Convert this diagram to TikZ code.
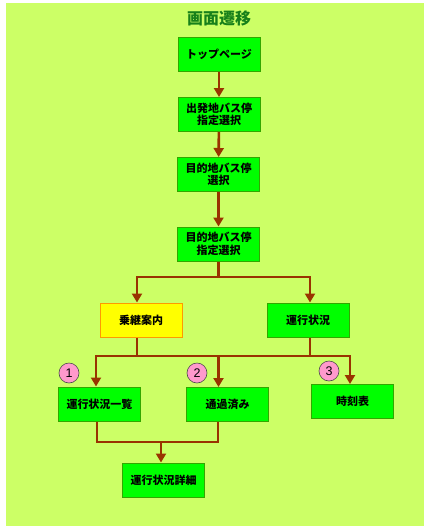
\documentclass[tikz,border=0pt]{standalone}
\usepackage{fontspec}
\setmainfont{Liberation Sans}
\newfontfamily\jpfont{Noto Sans CJK JP}[BoldFont={Noto Sans CJK JP Black}]
\usetikzlibrary{arrows.meta}

\definecolor{bgcol}{HTML}{CCFF66}
\definecolor{boxgreen}{HTML}{00FF00}
\definecolor{boxline}{HTML}{33A600}
\definecolor{boxyellow}{HTML}{FFFF00}
\definecolor{boxorange}{HTML}{FF9900}
\definecolor{flowbrown}{HTML}{993300}
\definecolor{titlegreen}{HTML}{17801A}
\definecolor{markpink}{HTML}{FF99CC}

\begin{document}
\begin{tikzpicture}[x=1pt,y=-1pt,
  screen/.style={draw=boxline,line width=1pt,fill=boxgreen,minimum width=82pt,minimum height=34pt,
    inner sep=0pt,align=center,font=\jpfont\bfseries\fontsize{11}{12.5}\selectfont},
  guide/.style={screen,draw=boxorange,fill=boxyellow},
  flow/.style={draw=flowbrown,line width=2.6pt},
  flowto/.style={flow,-{Triangle[width=10pt,length=9pt]}}]
\useasboundingbox (0,0) rectangle (424,528);
\fill[bgcol] (6,3) rectangle (424,526);
\node[font=\jpfont\bfseries\fontsize{16}{18}\selectfont,text=titlegreen] (title) at (219,18) {画面遷移};

% main chain
\node[screen] (top) at (219,54.5) {トップページ};
\node[screen] (dep) at (219,114.5) {出発地バス停\\指定選択};
\node[screen] (dest) at (218.5,174.5) {目的地バス停\\選択};
\node[screen] (dest2) at (218.5,244) {目的地バス停\\指定選択};
\node[guide] (transfer) at (141,320) {乗継案内};
\node[screen] (status) at (308,320) {運行状況};
\node[screen] (list) at (99.5,404) {運行状況一覧};
\node[screen] (passed) at (227.5,404.5) {通過済み};
\node[screen] (timetable) at (352.5,401.5) {時刻表};
\node[screen] (detail) at (163.5,480) {運行状況詳細};

\draw[flowto] (top) -- (dep);
\draw[flowto] (dep) -- (dest);
\draw[flowto] (dest) -- (dest2);

% branch to transfer / status
\coordinate (fork1) at (218.5,277);
\draw[flow] (dest2) -- (fork1);
\draw[flowto] (fork1) -| ([xshift=-4pt]transfer.north);
\draw[flowto] (fork1) -| ([xshift=2pt]status.north);

% branch to the three lists
\coordinate (fork2) at (218.5,356);
\draw[flow] ([xshift=-4pt]transfer.south) -- ([xshift=-4pt]transfer.south |- fork2);
\draw[flow] ([xshift=2pt]status.south) -- ([xshift=2pt]status.south |- fork2);
\draw[flowto] (fork2) -| ([xshift=-3.5pt]list.north);
\draw[flowto] (fork2) -- (passed.north -| fork2);
\draw[flowto] (fork2) -| ([xshift=-2.5pt]timetable.north);

% join to detail
\coordinate (join) at (161,442);
\draw[flow] ([xshift=-2.5pt]list.south) |- (join) -| ([xshift=-9.5pt]passed.south);
\draw[flowto] (join) -- (detail.north -| join);

\foreach \n/\px/\py in {1/69/373,2/197/373,3/329/371}{
  \node[circle,draw=black!70,line width=0.6pt,fill=markpink,minimum size=20pt,inner sep=0pt,
    font=\fontsize{12.5}{12.5}\selectfont] (num\n) at (\px,\py) {\n};}
\end{tikzpicture}
\end{document}
